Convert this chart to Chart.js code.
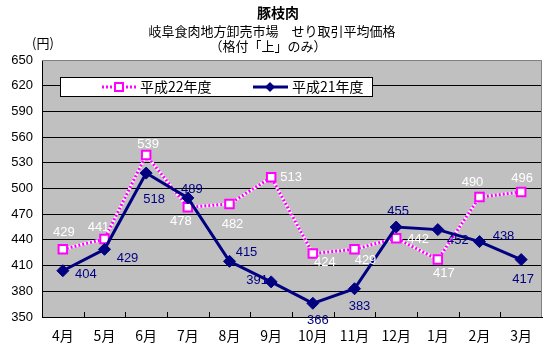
<!DOCTYPE html>
<html lang="ja">
<head>
<meta charset="utf-8">
<title>豚枝肉 せり取引平均価格</title>
<script src="https://cdn.jsdelivr.net/npm/chart.js@4.4.1/dist/chart.umd.min.js"></script>
<style>
  html, body { margin: 0; padding: 0; background: #fff; }
  #wrap { width: 550px; height: 350px; position: relative; }
</style>
</head>
<body>
<div id="wrap"><canvas id="porkChart"></canvas></div>
<script>
// 月別ラベルと各年度の平均価格（円）
const months = ['4月', '5月', '6月', '7月', '8月', '9月', '10月', '11月', '12月', '1月', '2月', '3月'];
const h22Prices = [429, 441, 539, 478, 482, 513, 424, 429, 442, 417, 490, 496];
const h21Prices = [404, 429, 518, 489, 415, 391, 366, 383, 455, 452, 438, 417];
const yTicks = [350, 380, 410, 440, 470, 500, 530, 560, 590, 620, 650];

const h22Label = '平成22年度';
const h21Label = '平成21年度';

// 値ラベルの表示位置（点からのずらし量）
const h22LabelOffsets = [[1, -17], [-6, -12], [2, -11], [-7, 14], [3, 21], [20, 0],
                         [12, 9], [11, 11], [22, 1], [6, 14], [-7, -15], [1, -14]];
const h21LabelOffsets = [[23, 4], [23, 9], [8, 26], [4, -9], [17, -9], [-14, -1],
                         [5, 17], [5, 18], [2, -16], [20, 11], [24, -5], [2, 20]];

const PINK = '#FF00FF';
const NAVY = '#000080';
const PLOT_BG = '#C0C0C0';
const JP_FONT = '"Noto Sans CJK JP", "Liberation Sans", sans-serif';
const NUM_FONT = '"Liberation Sans", Arial, sans-serif';

// グラフ領域の背景・枠線・目盛り
const plotFrame = {
    id: 'plotFrame',
    beforeDraw(chart) {
        const { ctx, chartArea: a } = chart;
        ctx.save();
        ctx.fillStyle = PLOT_BG;
        ctx.fillRect(a.left, a.top, a.right - a.left, a.bottom - a.top);
        ctx.restore();
    },
    afterDatasetsDraw(chart) {
        const { ctx, chartArea: a } = chart;
        const x = chart.scales.x;
        ctx.save();
        // 右と上の枠線（灰色）
        ctx.strokeStyle = '#808080';
        ctx.lineWidth = 1;
        ctx.beginPath();
        ctx.moveTo(a.left, a.top + 0.5);
        ctx.lineTo(a.right - 0.5, a.top + 0.5);
        ctx.lineTo(a.right - 0.5, a.bottom);
        ctx.stroke();
        // X軸の内向き目盛り
        ctx.strokeStyle = '#000';
        ctx.beginPath();
        for (let i = 1; i < months.length; i++) {
            const px = Math.round((x.getPixelForValue(i - 1) + x.getPixelForValue(i)) / 2) + 0.5;
            ctx.moveTo(px, a.bottom);
            ctx.lineTo(px, a.bottom - 5);
        }
        ctx.stroke();
        ctx.restore();
    }
};

// タイトル・単位・凡例・値ラベル
const chartText = {
    id: 'chartText',
    afterDraw(chart) {
        const { ctx } = chart;
        ctx.save();
        ctx.fillStyle = '#000';
        ctx.textAlign = 'center';
        ctx.textBaseline = 'middle';
        ctx.font = 'bold 14px ' + JP_FONT;
        ctx.fillText('豚枝肉', 278, 13);
        ctx.font = '13px ' + JP_FONT;
        ctx.fillText('岐阜食肉地方卸売市場　せり取引平均価格', 272, 31);
        ctx.fillText('（格付「上」のみ）', 268, 46);
        ctx.fillText('(円)', 43, 43);

        // 凡例
        ctx.fillStyle = '#fff';
        ctx.fillRect(60, 77, 312, 19);
        ctx.strokeStyle = '#000';
        ctx.lineWidth = 1;
        ctx.strokeRect(60.5, 77.5, 312, 19);

        const ly = 87;
        ctx.lineWidth = 3;
        ctx.strokeStyle = '#fff';
        ctx.beginPath(); ctx.moveTo(102, ly); ctx.lineTo(137, ly); ctx.stroke();
        ctx.strokeStyle = PINK;
        ctx.setLineDash([2, 2]);
        ctx.beginPath(); ctx.moveTo(102, ly); ctx.lineTo(137, ly); ctx.stroke();
        ctx.setLineDash([]);
        ctx.lineWidth = 2;
        ctx.fillStyle = '#fff';
        ctx.fillRect(115, ly - 4, 8, 8);
        ctx.strokeRect(115, ly - 4, 8, 8);

        ctx.strokeStyle = NAVY;
        ctx.lineWidth = 3;
        ctx.beginPath(); ctx.moveTo(253, ly); ctx.lineTo(288, ly); ctx.stroke();
        ctx.fillStyle = NAVY;
        ctx.beginPath();
        ctx.moveTo(270, ly - 5); ctx.lineTo(275, ly); ctx.lineTo(270, ly + 5); ctx.lineTo(265, ly);
        ctx.closePath(); ctx.fill();

        ctx.fillStyle = '#000';
        ctx.textAlign = 'left';
        ctx.font = '14px ' + JP_FONT;
        ctx.fillText(h22Label, 140, ly);
        ctx.fillText(h21Label, 292, ly);

        // 値ラベル
        ctx.textAlign = 'center';
        ctx.font = '13px ' + NUM_FONT;
        const drawValues = (dsIndex, values, offsets, color) => {
            const meta = chart.getDatasetMeta(dsIndex);
            ctx.fillStyle = color;
            meta.data.forEach((pt, i) => {
                ctx.fillText(String(values[i]), pt.x + offsets[i][0], pt.y + offsets[i][1]);
            });
        };
        drawValues(1, h22Prices, h22LabelOffsets, '#fff');
        drawValues(2, h21Prices, h21LabelOffsets, NAVY);
        ctx.restore();
    }
};

new Chart(document.getElementById('porkChart'), {
    type: 'line',
    data: {
        labels: months,
        datasets: [
            {
                // 点線の下地（白）
                label: '',
                data: h22Prices,
                borderColor: '#fff',
                borderWidth: 3,
                pointRadius: 0,
                tension: 0,
                order: 3
            },
            {
                label: h22Label,
                data: h22Prices,
                borderColor: PINK,
                borderWidth: 3,
                borderDash: [2, 2],
                pointStyle: 'rect',
                pointRadius: 6,
                pointBorderWidth: 2,
                pointBackgroundColor: '#fff',
                pointBorderColor: PINK,
                tension: 0,
                order: 2
            },
            {
                label: h21Label,
                data: h21Prices,
                borderColor: NAVY,
                borderWidth: 3,
                pointStyle: 'rectRot',
                pointRadius: 6,
                pointBackgroundColor: NAVY,
                pointBorderColor: NAVY,
                pointBorderWidth: 1,
                tension: 0,
                order: 1
            }
        ]
    },
    options: {
        responsive: true,
        maintainAspectRatio: false,
        animation: false,
        devicePixelRatio: 1,
        layout: { padding: { top: 60, right: 4, left: 0, bottom: 0 } },
        scales: {
            x: {
                offset: true,
                afterFit(scale) { scale.height = 33; },
                grid: { display: false, drawTicks: false },
                border: { display: true, color: '#000', width: 1 },
                ticks: {
                    color: '#000',
                    padding: 10,
                    font: { family: JP_FONT, size: 14 }
                }
            },
            y: {
                min: 350,
                max: 650,
                afterFit(scale) { scale.width = 42; },
                afterBuildTicks(scale) { scale.ticks = yTicks.map(v => ({ value: v })); },
                grid: {
                    drawTicks: false,
                    color: ctx => (ctx.tick && ctx.tick.value === 650 ? 'rgba(0,0,0,0)' : '#000'),
                    lineWidth: 1
                },
                border: { display: true, color: '#000', width: 1 },
                ticks: {
                    color: '#000',
                    padding: 9,
                    font: { family: NUM_FONT, size: 13 }
                }
            }
        },
        plugins: {
            legend: { display: false },
            tooltip: { enabled: false },
            title: { display: false }
        }
    },
    plugins: [plotFrame, chartText]
});
</script>
</body>
</html>
